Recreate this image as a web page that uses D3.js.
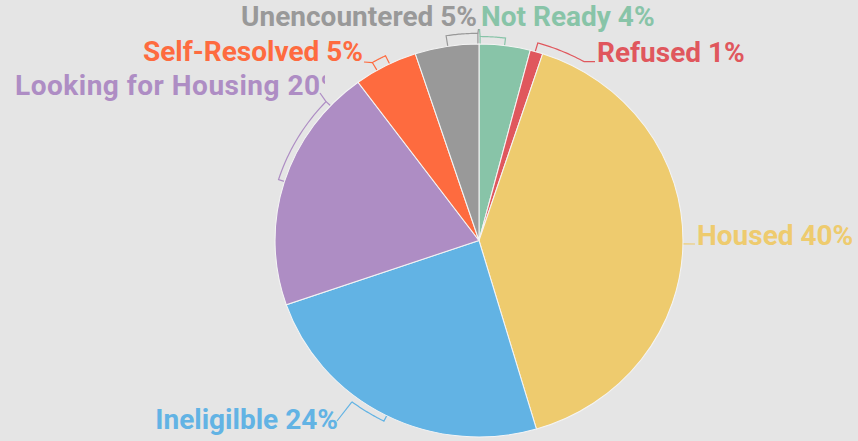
<!DOCTYPE html>
<html>
<head>
<meta charset="utf-8">
<script src="https://cdn.jsdelivr.net/npm/d3@7"></script>
<style>
  html, body { margin: 0; padding: 0; background: #e5e5e5; }
  text { font-family: Roboto, "Noto Sans", sans-serif; font-weight: 700; }
</style>
</head>
<body>
<div id="chart"></div>
<script>
const categories = ["Not Ready", "Refused", "Housed", "Ineligilble", "Looking for Housing", "Self-Resolved", "Unencountered"]
const percents = [4, 1, 40, 24, 20, 5, 5]
const colors = ["#88c4a8", "#e0575d", "#eecb6e", "#62b3e4", "#ae8dc4", "#fe6b3f", "#999999"]

function draw() {
    const width = 858, height = 441
    // pie centre, radius and the slight horizontal stretch of the picture
    const cx = 479, cy = 240.5, R = 196.5, sx = 1.038

    const svg = d3.select('#chart')
        .append('svg')
        .attr('width', width)
        .attr('height', height)

    svg.append('rect')
        .attr('width', width)
        .attr('height', height)
        .attr('fill', '#e5e5e5')

    const rad = d => d * Math.PI / 180
    const pt = (a, r) => [cx + sx * r * Math.sin(a), cy - r * Math.cos(a)]

    // leader lines: bracket arc just outside a slice, plus a connector to the label
    const leaders = [
        { arc: [0.3, 7.2], rb: 7.5, ticks: [1, 1], from: 0, to: [479.5, 29] },
        { arc: [16, 29.5], rb: 9, ticks: [1, 0], from: 1, to: [595, 61.7] },
        { arc: null, at: 91, to: [695, 244] },
        { arc: [206.9, 217.2], rb: 6, ticks: [1, 0], from: 1, to: [337, 421] },
        { arc: [287.5, 313.3], rb: 6, ticks: [1, 1], from: 1, to: [320, 93] },
        { arc: [330, 334], rb: 9, ticks: [1, 1], from: 0, to: [364, 62] },
        { arc: [351.2, 359.7], rb: 10.7, ticks: [1, 1], from: 1, to: [478.5, 29] }
    ]

    const labelPos = [
        { x: 481, y: 26, anchor: 'start' },
        { x: 597, y: 62, anchor: 'start' },
        { x: 697, y: 245, anchor: 'start' },
        { x: 338, y: 429, anchor: 'end' },
        { x: 15, y: 95, anchor: 'start', spacing: 0.5 },
        { x: 363, y: 61, anchor: 'end' },
        { x: 477, y: 26, anchor: 'end' }
    ]

    const line = d3.line()

    const leaderGroup = svg.append('g')
        .attr('fill', 'none')
        .attr('stroke-width', 1.2)

    leaders.forEach((l, i) => {
        if (!l.arc) {
            leaderGroup.append('path')
                .attr('d', line([pt(rad(l.at), R - 2), l.to]))
                .attr('stroke', colors[i])
            return
        }
        const a0 = rad(l.arc[0]), a1 = rad(l.arc[1])
        const r = R + l.rb
        const pts = d3.range(0, 21).map(k => pt(a0 + (a1 - a0) * k / 20, r))
        if (l.ticks[0]) pts.unshift(pt(a0, R - 3))
        if (l.ticks[1]) pts.push(pt(a1, R - 3))
        leaderGroup.append('path')
            .attr('d', line(pts))
            .attr('stroke', colors[i])
        const end = pt(l.from ? a1 : a0, r)
        leaderGroup.append('path')
            .attr('d', line([end, l.to]))
            .attr('stroke', colors[i])
    })

    const arcs = d3.pie().sort(null).value(d => d)(percents)
    const arcGen = d3.arc().innerRadius(0).outerRadius(R)

    svg.append('g')
        .attr('transform', `translate(${cx}, ${cy}) scale(${sx}, 1)`)
        .selectAll('path')
        .data(arcs)
        .join('path')
        .attr('d', arcGen)
        .attr('fill', (d, i) => colors[i])
        .attr('stroke', '#f4f4f4')
        .attr('stroke-width', 1)

    // the long label is cut off at the pie side in the original
    svg.append('clipPath')
        .attr('id', 'cut')
        .append('rect')
        .attr('x', 0).attr('y', 0)
        .attr('width', 325).attr('height', height)

    svg.append('g')
        .selectAll('text')
        .data(categories)
        .join('text')
        .attr('x', (d, i) => labelPos[i].x)
        .attr('y', (d, i) => labelPos[i].y)
        .attr('text-anchor', (d, i) => labelPos[i].anchor)
        .attr('letter-spacing', (d, i) => labelPos[i].spacing || null)
        .attr('clip-path', (d, i) => i === 4 ? 'url(#cut)' : null)
        .attr('fill', (d, i) => colors[i])
        .attr('font-size', 28)
        .text((d, i) => `${d} ${percents[i]}%`)
}

draw()
</script>
</body>
</html>
